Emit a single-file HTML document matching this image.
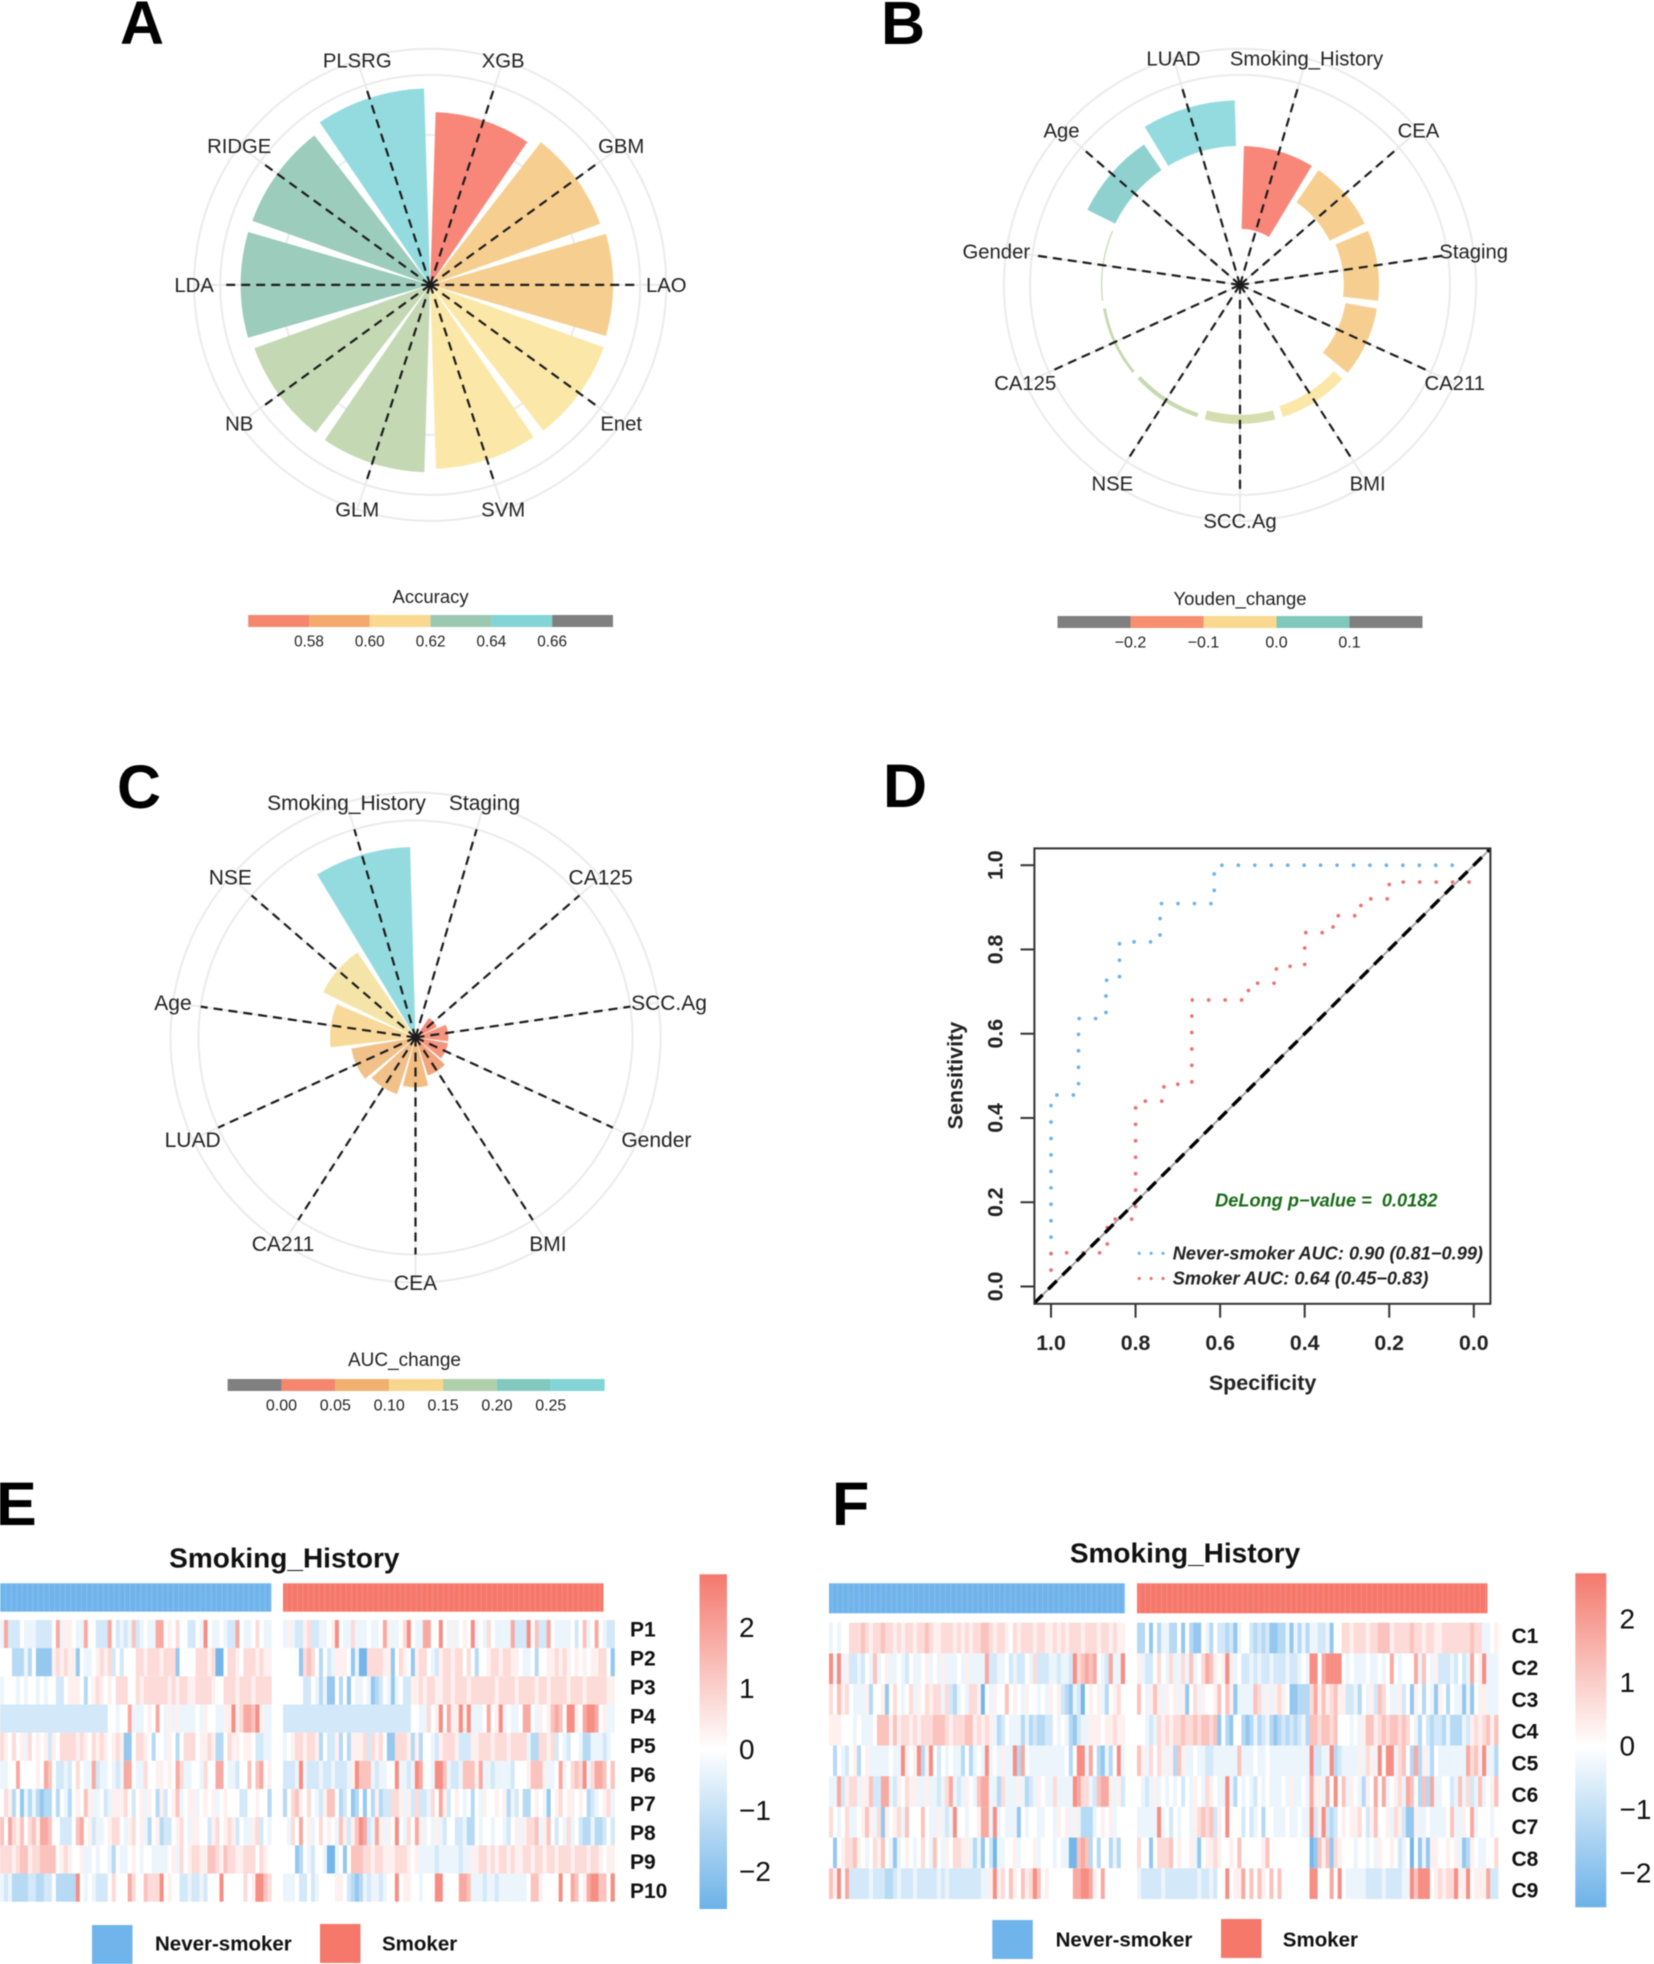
<!DOCTYPE html>
<html lang="en">
<head>
<meta charset="utf-8">
<title>Smoking history model panels</title>
<style>
html,body{margin:0;padding:0;background:#fff;width:1654px;height:1964px;overflow:hidden}
svg{display:block;font-family:"Liberation Sans",Arial,sans-serif;filter:blur(.4px)}
</style>
</head>
<body>
<svg id="fig" xmlns="http://www.w3.org/2000/svg" width="1654" height="1964" viewBox="0 0 1654 1964">
<defs>
<pattern id="annStripes" width="5.4" height="10" patternUnits="userSpaceOnUse"><rect x="0" y="0" width="1" height="10" fill="#fff" opacity=".13"/></pattern>
<linearGradient id="heatGradE" x1="0" y1="0" x2="0" y2="1"><stop offset="0" stop-color="#F4796D"/><stop offset=".523" stop-color="#fff"/><stop offset="1" stop-color="#6CB2E8"/></linearGradient>
<linearGradient id="heatGradF" x1="0" y1="0" x2="0" y2="1"><stop offset="0" stop-color="#F4796D"/><stop offset=".517" stop-color="#fff"/><stop offset="1" stop-color="#6CB2E8"/></linearGradient>
<clipPath id="rocClip"><rect x="1034.4" y="848.4" width="456" height="455.4"/></clipPath>
</defs>
<g font-weight="700" font-size="61" fill="#000">
<text x="120" y="44">A</text>
<text x="881" y="44">B</text>
<text x="117" y="808">C</text>
<text x="883" y="807">D</text>
<text x="-4" y="1525">E</text>
<text x="832" y="1525">F</text>
</g>
<g id="panelA"></g>
<g id="panelB"></g>
<g id="panelC"></g>
<g id="panelD"></g>
<g id="panelE"></g>
<g id="panelF"></g>
</svg>
<script>
// ---------- Panel A data ----------
const aLabels = ["XGB","GBM","LAO","Enet","SVM","GLM","NB","LDA","RIDGE","PLSRG"];
const aValues = [0.576,0.602,0.61,0.615,0.613,0.625,0.623,0.632,0.63,0.655];
const aRings = [0.5,0.7,0.787];
const aLegendTicks = ["0.58","0.60","0.62","0.64","0.66"];
const aLegendEdges = [0.56,0.58,0.60,0.62,0.64,0.66,0.68];
// ---------- Panel B data ----------
const bLabels = ["Smoking_History","CEA","Staging","CA211","BMI","SCC.Ag","NSE","CA125","Gender","Age","LUAD"];
const bValues = [-0.2,-0.094,-0.085,-0.077,-0.028,-0.022,-0.01,-0.007,-0.003,0.075,0.11];
const bRings = [0.171,0.234];
const bLegendTicks = ["−0.2","−0.1","0.0","0.1"];
const bLegendEdges = [-0.3,-0.2,-0.1,0,0.1,0.2];
// ---------- Panel C data ----------
const cLabels = ["Staging","CA125","SCC.Ag","Gender","BMI","CEA","CA211","LUAD","Age","NSE","Smoking_History"];
const cValues = [0.004,0.034,0.047,0.047,0.057,0.071,0.085,0.093,0.122,0.147,0.272];
const cRings = [0.31,0.35];
const cLegendTicks = ["0.00","0.05","0.10","0.15","0.20","0.25"];
const cLegendEdges = [-0.05,0,0.05,0.1,0.15,0.2,0.25,0.3];
// ---------- Panel D data ----------
const neverSpec = [1,1,0.935,0.935,0.87,0.87,0.838,0.838,0.742,0.742,0.614,0.614,0.04];
const neverSens = [0,0.4545,0.4545,0.636,0.636,0.727,0.727,0.818,0.818,0.909,0.909,1,1];
const smokerSpec = [1,1,0.867,0.867,0.8,0.8,0.733,0.733,0.667,0.667,0.533,0.533,0.467,0.467,0.4,0.4,0.333,0.333,0.267,0.267,0.2,0.2,0];
const smokerSens = [0,0.08,0.08,0.16,0.16,0.44,0.44,0.48,0.48,0.68,0.68,0.72,0.72,0.76,0.76,0.84,0.84,0.88,0.88,0.92,0.92,0.96,0.96];
const rocTicks = [0,0.2,0.4,0.6,0.8,1];
// ---------- Panel E data (half z-score units) ----------
const eRowLabels = ["P1","P2","P3","P4","P5","P6","P7","P8","P9","P10"];
const p1Left = [-1,4,-2,-2,-2,0,-1,-1,-1,-2,-2,-2,-2,0,4,-1,1,1,0,-1,-1,4,0,0,-2,-2,-2,4,0,-2,-1,-2,-1,3,-2,-1,0,-1,-1,4,4,0,1,0,2,0,0,-2,-2,0,-1,5,0,-1,-1,0,-1,-2,-2,4,0,-1,-1,0,2,0,-1,-1];
const p2Left = [0,0,0,-3,-3,-3,-1,-3,0,-4,-4,-4,-4,1,2,1,2,1,1,-4,0,-1,-1,0,1,2,1,2,-2,0,-2,0,0,0,2,2,1,2,2,2,1,2,2,2,-4,0,0,0,0,2,2,2,1,2,-5,-5,0,2,2,1,0,2,2,2,1,2,1,1];
const p3Left = [-1,0,0,0,-1,0,-1,0,0,-1,0,-1,0,0,-2,-2,0,1,1,1,0,-3,0,1,2,1,0,1,0,2,2,2,0,0,2,1,2,2,2,2,2,2,1,2,1,2,2,1,1,2,2,2,2,1,0,0,2,2,2,1,2,2,2,1,2,2,2,2];
const p4Left = [-2,-2,-2,-2,-2,-2,-2,-2,-2,-2,-2,-2,-2,-2,-2,-2,-2,-2,-2,-2,-2,-2,-2,-2,-2,-2,-2,0,0,-1,0,0,4,-1,-1,-1,0,1,0,4,0,-1,1,-1,1,-1,-1,-1,-1,0,-1,1,0,0,-1,-1,1,1,5,1,2,4,4,3,5,1,-1,-1];
const p5Left = [2,1,0,2,0,1,-1,2,0,1,0,1,-2,1,0,2,2,2,2,1,2,1,0,2,1,2,1,0,1,2,1,-4,-4,0,2,2,1,0,-3,0,0,-1,1,0,-3,0,2,2,2,0,1,1,2,1,-3,-3,0,2,1,1,0,1,1,0,-2,-2,-1,-1];
const p6Left = [-1,-1,0,0,4,0,0,0,0,1,0,4,3,0,-2,-2,-1,-2,0,2,0,-1,-1,4,-2,-1,-1,0,-1,-2,-1,4,4,0,-1,-1,2,0,0,1,1,0,1,0,4,2,-1,-1,0,0,-1,2,0,0,4,4,0,-1,-1,-2,0,0,3,0,3,4,0,1];
const p7Left = [0,2,1,-3,0,-4,-1,-3,-1,-3,-4,-3,-3,0,-3,0,-1,-3,0,1,0,3,1,-1,-1,0,-2,-1,1,1,1,2,0,-2,0,1,-1,1,0,-3,1,-2,0,1,3,-1,0,1,1,-1,0,1,0,1,-1,0,1,0,0,0,-2,-2,0,0,1,0,0,-3];
const p8Left = [3,0,4,2,1,3,0,2,3,1,4,4,3,0,0,-2,-2,-2,0,3,4,0,1,-2,-1,-1,0,1,2,2,0,-1,1,2,0,1,-1,-3,0,1,-3,-2,-2,0,1,2,0,-1,1,1,0,0,-2,1,2,0,1,2,1,-2,0,-1,-1,1,2,-2,0,-1];
const p9Left = [2,2,2,1,2,3,3,1,2,2,3,3,3,3,0,1,2,1,0,0,1,-1,-1,0,-1,0,0,-1,-3,0,-1,-1,0,1,0,-1,0,0,-1,-1,-1,-1,0,1,-1,2,0,1,2,2,1,1,3,3,2,1,3,2,2,1,1,2,2,2,0,2,1,0];
const p10Left = [-1,-2,-1,-3,-3,-3,-3,-2,-2,-3,-3,-2,-2,0,-3,-3,-3,-3,-3,5,0,-1,0,-1,-2,-2,-2,0,2,0,0,0,4,2,0,0,3,2,2,2,5,0,1,0,0,-2,-2,-1,-2,-2,-1,-2,0,0,0,5,0,0,0,0,0,2,0,1,5,5,3,2];
const p1Right = [-1,1,-1,-2,-2,1,2,-2,-2,-1,-1,0,1,5,0,-1,-1,2,-1,-1,-1,0,-1,-1,0,4,1,-1,-1,0,2,5,0,-1,-1,4,4,0,0,5,0,-1,1,-1,0,1,0,5,-1,0,-1,2,0,-1,-1,-1,-1,4,-2,-2,-2,5,0,3,-2,-2,4,0,-1,-1,-1,-1,0,-2,0,3,-1,0,4,0,-1,-2,-2];
const p2Right = [0,0,0,0,-4,2,3,2,0,-3,0,-2,-1,1,1,1,0,-4,-1,-5,-5,2,2,2,2,1,1,-4,0,2,1,0,-4,1,2,2,0,-1,-2,1,2,2,1,2,2,0,2,0,-3,0,0,1,2,2,1,2,2,1,1,0,-1,-1,0,-3,0,0,1,1,2,1,2,1,0,1,0,1,0,1,1,2,2,0,-4];
const p3Right = [0,0,0,0,0,-2,-2,0,-1,-3,-1,-4,-4,0,-3,0,-4,0,-1,-1,0,-1,-4,-3,-2,0,-1,-4,-1,0,-2,-2,1,1,2,1,2,2,1,1,2,2,1,2,2,2,1,2,2,2,2,2,2,1,2,2,2,2,1,2,2,2,2,1,2,2,1,2,2,2,2,1,2,2,2,1,2,2,2,2,2,1,1];
const p4Right = [-2,-2,-2,-2,-2,-2,-2,-2,-2,-2,-2,-2,-2,-2,-2,-2,-2,-2,-2,-2,-2,-2,-2,-2,-2,-2,-2,-2,-2,-2,-2,-2,0,0,-1,-1,2,0,1,5,0,4,1,1,5,1,5,-1,-1,-1,0,4,0,1,5,-1,0,-1,-1,0,4,4,0,-1,1,0,1,3,4,3,0,5,5,1,0,4,5,5,4,0,1,-1,-1];
const p5Right = [-1,0,1,2,2,1,2,2,1,-3,0,-2,-2,1,-3,0,-3,1,1,1,2,-2,2,1,2,0,-4,-4,2,2,2,1,-3,1,-3,0,0,-1,-2,1,2,2,2,1,-2,-2,-2,1,1,2,2,2,1,2,2,2,1,2,2,2,2,-1,-3,-3,2,2,1,2,-2,0,-1,-2,0,0,-1,-3,-3,-1,-1,-1,-2,-1,0];
const p6Right = [-2,-2,-2,-1,5,-1,-2,-2,-2,-1,-2,-2,-1,-2,-2,-2,-1,1,5,3,3,3,-1,-2,-1,-1,0,0,5,-1,-1,-2,-1,5,4,0,0,-1,5,5,3,-1,-2,-2,-1,3,3,3,1,4,-1,-1,-2,-1,-1,-1,-1,-2,0,0,0,1,3,3,3,1,-1,-1,0,4,-1,0,2,3,2,5,-1,2,4,4,3,0,3];
const p7Right = [-3,0,2,3,1,0,2,0,-1,-2,1,3,3,0,-3,-2,0,-4,-3,0,-4,0,-3,1,-3,-2,-2,2,2,1,-1,1,-2,2,-2,-2,-1,2,0,4,1,-2,0,1,0,-1,0,-3,0,-1,1,0,0,1,0,1,-3,-1,-2,0,-3,-3,0,1,0,-1,-4,0,1,2,0,1,1,0,1,0,-3,-2,-1,0,1,2,-1];
const p8Right = [0,-1,2,0,4,0,1,-1,0,2,0,1,0,-1,3,1,-2,1,3,5,4,-2,-1,4,1,-1,1,0,5,0,-1,2,0,4,1,-1,0,-1,1,-1,-2,0,0,-2,-2,-1,-3,-3,0,-1,0,0,-1,0,0,-1,-2,0,1,-1,1,2,2,3,-1,1,3,0,-2,0,-1,2,-1,0,-2,-3,-3,-1,-3,-3,-2,0,-2];
const p9Right = [0,0,0,-4,-3,0,-1,-2,0,0,-1,-5,-5,-1,0,-4,0,3,3,3,2,2,1,2,2,1,1,1,2,2,2,1,0,1,-1,-1,-1,-1,-2,-1,-1,-1,-1,-1,-2,-1,-1,1,1,2,2,1,2,1,2,2,1,2,1,1,2,2,1,2,2,1,2,2,1,2,2,2,1,2,2,2,1,2,2,1,0,1,1];
const p10Right = [-1,-1,-1,0,-2,-2,0,-2,-1,0,0,0,0,1,1,0,-2,-3,-4,-3,-1,-2,-1,-1,-2,-1,0,0,5,0,1,1,0,0,-1,0,0,0,5,5,0,0,0,0,4,4,3,-1,-1,-1,-2,-1,-1,-2,-1,-1,-1,-1,-1,-1,-1,0,3,3,1,0,0,0,0,5,0,0,4,3,0,1,4,5,5,3,3,0,5];
const eLeftRows = [p1Left,p2Left,p3Left,p4Left,p5Left,p6Left,p7Left,p8Left,p9Left,p10Left];
const eRightRows = [p1Right,p2Right,p3Right,p4Right,p5Right,p6Right,p7Right,p8Right,p9Right,p10Right];
// ---------- Panel F data (half z-score units) ----------
const fRowLabels = ["C1","C2","C3","C4","C5","C6","C7","C8","C9"];
const c1Left = [-1,0,-1,0,0,2,2,2,3,2,1,2,2,3,2,2,1,2,1,2,2,1,2,2,3,2,1,1,2,2,2,1,2,1,2,1,2,2,3,3,2,1,2,2,1,0,2,1,2,2,2,1,2,2,1,1,2,1,2,1,2,2,2,1,2,2,2,1,2,2,1,2,1,1];
const c2Left = [5,-1,5,-1,1,-2,-2,-1,-2,0,-1,3,-1,0,1,-1,-1,0,-1,-2,0,-1,-1,0,1,-1,0,-1,1,-1,-1,-1,0,-1,1,-1,-1,-1,-1,4,-2,-2,-1,-1,0,-2,-1,-2,-2,0,-1,2,-2,-2,-2,-1,-1,-2,-1,-1,-2,5,2,3,4,3,4,0,-1,-2,4,-1,-1,5];
const c3Left = [2,0,3,1,2,0,-1,-1,-1,1,-3,0,0,1,-4,0,2,0,-1,0,2,-1,1,0,2,1,2,2,-1,2,-2,-3,-1,0,-1,2,2,1,-5,0,-1,1,0,0,3,0,1,0,-1,1,0,0,-1,0,-1,1,0,1,-2,-3,-4,-1,-2,-5,0,1,0,1,-1,-3,0,1,2,0];
const c4Left = [1,1,1,0,0,0,-1,0,-1,-1,-1,0,3,3,3,1,3,1,2,2,1,2,1,2,2,2,3,3,3,2,1,2,2,2,3,3,1,2,1,2,1,-1,-3,-2,0,-1,-1,-1,-3,-1,-3,-2,-3,-3,-2,-2,0,-1,0,-1,-3,-4,-2,-1,-1,1,1,1,0,1,1,2,1,1];
const c5Left = [0,-3,0,-1,-2,0,1,-3,0,1,-1,-1,-1,-1,-1,0,-1,-1,5,1,0,1,5,-3,1,5,0,-2,0,-1,0,-1,-1,-3,0,-3,-1,0,-1,5,-1,0,-1,1,-1,-1,5,-3,4,0,-1,-1,-1,-1,-1,-1,-1,-1,-1,0,-3,0,5,5,-1,4,0,-3,-4,-1,-3,0,5,-1];
const c6Left = [-1,-1,4,-2,1,2,2,-1,1,1,3,-2,-2,4,4,-1,-2,1,0,2,1,1,-1,-1,1,-1,-1,-2,-1,2,4,-1,-2,-1,1,0,-1,3,4,4,-1,-1,-3,2,-1,-1,-1,1,-1,-3,-2,-1,1,0,-1,-1,2,-1,-1,-1,-1,5,4,2,2,-1,-2,3,4,4,1,-1,1,-2];
const c7Left = [2,0,-1,0,2,-1,-1,0,1,3,1,-1,2,-4,1,0,1,2,-1,3,0,0,0,3,0,-1,-1,1,-1,-2,-1,5,0,0,-1,0,0,1,4,4,-1,5,-1,0,-1,-1,-1,-4,0,-1,0,0,-1,-1,0,0,-1,1,0,1,-1,1,-1,-3,-3,-3,-1,0,1,0,1,-1,0,0];
const c8Left = [0,-4,0,1,2,2,3,1,0,-1,0,2,1,3,0,-1,-4,-1,0,1,0,-1,0,2,0,-1,3,0,-1,1,0,2,2,1,1,-1,-3,-1,-4,0,-2,-5,-1,-1,0,0,1,-1,0,0,0,1,-1,0,0,0,-1,0,-1,-1,-5,-5,3,4,3,-3,0,-3,0,0,-3,-1,-3,0];
const c9Left = [3,1,5,0,4,-2,-2,-2,-2,-2,-1,-2,-2,-2,-3,-3,-2,-1,-2,-2,-2,-1,-2,-2,-2,-2,-2,-1,-2,-1,-2,-2,-2,-2,-2,-2,-2,-2,-1,-1,1,5,1,2,0,3,1,0,3,1,2,5,3,0,1,0,0,0,0,0,0,4,4,5,5,4,1,0,4,0,0,0,0,0];
const c1Right = [-3,-3,0,-4,0,-3,-1,-1,-3,-3,0,-4,0,-3,-4,-4,0,-1,-3,0,-2,-2,-3,-2,-4,-1,0,0,-2,-3,-2,-3,-2,-4,-4,-3,-3,-1,-4,-1,-3,-1,-3,-1,-1,-2,-2,-1,-4,0,0,2,2,1,2,2,2,1,2,2,3,3,3,1,2,2,2,2,3,2,2,1,2,2,1,1,2,2,2,2,2,2,2,3,2,2,-1,-1,0,1];
const c2Right = [1,-1,-2,-2,0,2,0,-1,2,-1,-1,2,-1,3,-1,0,2,4,3,1,0,1,5,1,-1,0,-2,-2,-1,-2,-1,-2,-2,-1,-2,-2,-2,-1,-2,-2,-1,0,-1,5,5,0,4,5,5,5,5,0,-1,0,-1,-1,-1,0,-1,-1,0,-1,0,4,0,-1,0,0,0,4,-1,3,0,-1,1,-2,-2,-2,-1,-2,0,-2,-1,4,0,1,5,-1,-1,-1];
const c3Right = [3,0,-1,1,3,1,-1,1,0,1,-1,1,-4,0,2,-1,1,0,0,1,3,0,3,1,-4,-1,-1,-1,-1,3,2,-1,1,-1,1,2,1,0,-4,-4,-3,-3,-3,2,4,1,3,1,2,3,1,1,-2,-2,-1,-3,0,-1,1,-2,3,2,0,-1,-1,1,-2,0,-4,1,0,-3,0,-1,-4,1,0,-3,0,-1,-1,-4,-1,-4,0,1,1,-1,-1,-1];
const c4Right = [0,0,-1,-2,-1,2,1,2,1,2,2,3,2,2,3,2,3,3,2,3,-4,0,-3,-4,0,0,-3,-4,-3,-1,-3,-2,-1,-3,-4,-3,-2,-3,-2,-3,-2,-1,-3,3,3,2,3,3,2,3,0,0,0,-1,0,-1,1,3,3,1,2,3,2,3,3,2,3,2,0,-1,-3,0,-2,-3,-2,-2,-3,-1,-3,-3,-3,-1,-2,1,2,1,2,3,1,3];
const c5Right = [3,1,-1,2,0,2,1,-1,1,-3,3,1,-1,-1,0,-1,-1,-2,-2,-1,-1,-1,-1,-1,-1,3,-1,-1,-1,0,-1,-1,0,-1,-1,-1,-1,-1,-1,-1,-1,-1,-1,5,-2,-2,-1,-1,5,-3,-2,-1,-1,-1,-1,1,-1,2,1,-1,5,0,5,5,-1,2,3,0,-3,4,-3,1,-1,-3,0,-1,-1,-1,-1,-1,-1,-1,4,2,3,1,5,-1,-1,-3];
const c6Right = [0,-1,-2,-1,1,-1,0,-1,0,-1,0,-2,0,-1,1,0,-1,2,1,0,-1,-1,5,-1,-3,0,-1,0,-1,-2,0,-1,0,-1,-1,-1,0,-1,1,-1,-1,0,-1,4,1,1,-1,4,0,5,0,3,-1,1,0,-1,-3,1,0,4,0,4,-1,0,1,2,-1,4,3,0,-3,3,-3,4,-1,-1,0,0,-2,-1,3,-1,2,-2,-1,3,-1,0,1,3];
const c7Right = [-1,-1,-1,-1,-1,5,-1,0,-2,0,-1,0,0,-1,1,2,3,2,3,-2,1,0,5,0,0,0,-2,0,-2,-1,0,-3,0,0,-1,-1,-1,0,-1,-1,0,-1,-1,5,-2,1,5,-2,-3,-2,0,1,0,1,1,2,0,-2,1,3,0,0,1,-1,2,1,-2,-4,-4,1,-1,-1,0,-1,-1,-1,-1,0,3,-1,-1,1,0,4,-1,0,0,0,-1,0];
const c8Right = [2,0,0,-4,0,2,2,2,3,0,1,0,0,1,-1,-4,0,1,1,2,1,0,0,1,0,3,0,0,0,0,0,1,3,0,0,0,0,0,0,0,0,0,0,-5,-4,3,1,3,-4,2,1,0,0,0,-1,0,0,-1,0,-1,1,0,0,1,0,-2,-1,0,-5,0,-4,-1,-4,1,1,0,0,1,0,1,-1,-4,-3,1,0,-1,-1,0,0,2];
const c9Right = [-1,-2,-2,-2,-2,-2,-1,-2,-2,-2,-2,-2,-2,-2,-2,-1,-2,-2,-1,-2,0,0,5,0,1,1,4,0,3,0,3,1,0,3,0,3,0,0,0,0,0,0,0,5,5,0,0,0,4,0,5,0,-1,-1,-1,-1,-1,-2,-2,-2,-2,-1,-2,-2,-2,-2,-1,-1,5,3,5,5,5,0,1,2,1,2,2,5,1,1,5,0,1,1,1,4,-2,-2];
const fLeftRows = [c1Left,c2Left,c3Left,c4Left,c5Left,c6Left,c7Left,c8Left,c9Left];
const fRightRows = [c1Right,c2Right,c3Right,c4Right,c5Right,c6Right,c7Right,c8Right,c9Right];
const heatTicks = [2,1,0,-1,-2];

// ---------- helpers ----------
const NS = "http://www.w3.org/2000/svg";
function add(parent, tag, props, txt){
  const n = document.createElementNS(NS, tag);
  for (const k in props) n.setAttribute(k, props[k]);
  if (txt !== undefined) n.textContent = txt;
  parent.appendChild(n);
  return n;
}
function pt(cx, cy, r, deg){
  const a = deg * Math.PI / 180;
  return [cx + r * Math.sin(a), cy - r * Math.cos(a)];
}
function wedge(cx, cy, r0, r1, a0, a1){
  const p1 = pt(cx,cy,r1,a0), p2 = pt(cx,cy,r1,a1), p3 = pt(cx,cy,r0,a1), p4 = pt(cx,cy,r0,a0);
  return "M"+p1+"A"+r1+" "+r1+" 0 0 1 "+p2+"L"+p3+"A"+r0+" "+r0+" 0 0 0 "+p4+"Z";
}
function binColor(v, breaks, palette){
  let i = 0;
  while (i < breaks.length && v >= breaks[i]) i++;
  return palette[i];
}
function polarChart(g, o){
  const step = 360 / o.labels.length;
  o.rings.forEach(function(v){
    const ring = add(g, "circle", {cx:o.cx, cy:o.cy, r:o.r(v), fill:"none", stroke:"#EBEBEB", "stroke-width":2});
    
    
  });
  const rOuter = o.r(o.rings[o.rings.length-1]);
  const rSpoke = o.r(o.rings[o.rings.length-2]);
  o.labels.forEach(function(lab, i){
    const p = pt(o.cx,o.cy,rOuter,(i+.5)*step);
    const grid = add(g, "line", {x1:o.cx, y1:o.cy, x2:p[0], y2:p[1], stroke:"#EBEBEB", "stroke-width":2});
    
    
  });
  o.labels.forEach(function(lab, i){
    const c = (i+.5)*step, hw = step*.45;
    const ra = o.r(0), rb = o.r(o.values[i]);
    const bar = add(g, "path", {d:wedge(o.cx,o.cy,Math.min(ra,rb),Math.max(ra,rb),c-hw,c+hw), fill:binColor(o.values[i],o.breaks,o.palette)});
    
    
  });
  o.labels.forEach(function(lab, i){
    const c = (i+.5)*step;
    const e = pt(o.cx,o.cy,rSpoke,c);
    const sp = add(g, "line", {x1:o.cx, y1:o.cy, x2:e[0], y2:e[1], stroke:"#1c1c1c", "stroke-width":2.2, "stroke-dasharray":"9 6"});
    
    
    const lp = pt(o.cx,o.cy,rOuter,c);
    const t = add(g, "text", {x:lp[0] + (o.nudge[lab]||0), y:lp[1]+1, "font-size":o.font, fill:"#222", "text-anchor":"middle", "dominant-baseline":"central"}, lab);
    
    
  });
}
function legendBar(g, o){
  const x = function(v){ return o.x0 + (v - o.edges[0]) * o.k; };
  const title = add(g, "text", {x:o.titleX, y:o.titleY, "font-size":o.titleFont, fill:"#222", "text-anchor":"middle", "dominant-baseline":"central"}, o.title);
  
  
  for (let i = 0; i < o.edges.length-1; i++){
    const seg = add(g, "rect", {x:x(o.edges[i]), y:o.y, width:x(o.edges[i+1])-x(o.edges[i]), height:12, fill:o.colors[i]});
    
    
  }
  o.ticks.forEach(function(lab, i){
    const t = add(g, "text", {x:x(o.edges[i+1]), y:o.y+27, "font-size":o.tickFont, fill:"#222", "text-anchor":"middle", "dominant-baseline":"central"}, lab);
    
    
  });
}

// ---------- Panels A, B, C ----------
polarChart(document.getElementById("panelA"), {cx:430.2, cy:284.9, font:20.3, labels:aLabels, values:aValues, rings:aRings, nudge:{},
  r:function(v){return 300*v;},
  breaks:[.59,.612,.62,.628,.64],
  palette:["#F8877A","#F6CF90","#FBE8A8","#C4D8B4","#9CCCBB","#94DBE0"]});
legendBar(document.getElementById("panelA"), {title:"Accuracy", titleFont:18.5, tickFont:15.3, titleX:430.6, titleY:596.5, x0:248.2, k:3040, y:615, edges:aLegendEdges, ticks:aLegendTicks,
  colors:["#F5876F","#F4A96F","#FAD88F","#9CC7B3","#83D4D6","#808080"]});

polarChart(document.getElementById("panelB"), {cx:1240, cy:284.9, font:20.3, labels:bLabels, values:bValues, rings:bRings, nudge:{Gender:-10},
  r:function(v){return 139+415*v;},
  breaks:[-.15,-.05,-.025,-.015,0,.09],
  palette:["#F8877A","#F6CF90","#FBE8A8","#D6DDAE","#C8D9B2","#8FD1CF","#94DBE0"]});
legendBar(document.getElementById("panelB"), {title:"Youden_change", titleFont:18.5, tickFont:16, titleX:1240, titleY:598.5, x0:1057.5, k:730, y:616, edges:bLegendEdges, ticks:bLegendTicks,
  colors:["#808080","#F79070","#FAD88F","#80C8BC","#808080"]});

polarChart(document.getElementById("panelC"), {cx:415.5, cy:1037.5, font:21, labels:cLabels, values:cValues, rings:cRings, nudge:{"SCC.Ag":11, Gender:18},
  r:function(v){return 700*v;},
  breaks:[.04,.05,.06,.08,.1,.13,.2],
  palette:["#F58B7A","#F5957D","#F2A47C","#F3BC80","#F2C189","#F8D99A","#F5E4A8","#94DBE0"]});
legendBar(document.getElementById("panelC"), {title:"AUC_change", titleFont:19, tickFont:16, titleX:404.5, titleY:1360.6, x0:227.6, k:1077.2, y:1379, edges:cLegendEdges, ticks:cLegendTicks,
  colors:["#808080","#F5876F","#F2B06F","#F8D68E","#B0D0AC","#82CAC0","#83D4D6"]});

// ---------- Panel D ----------
(function(){
  const g = document.getElementById("panelD");
  const sx = function(s){ return 1051 + (1-s)*422.8; };
  const sy = function(v){ return 1286.5 - v*421.3; };
  function curve(xs, ys, color, name){
    let d = "";
    xs.forEach(function(x,i){ d += (i?"L":"M") + sx(x) + " " + sy(ys[i]); });
    const p = add(g, "path", {d:d, fill:"none", stroke:color, "stroke-width":3.7, "stroke-linecap":"round", "stroke-dasharray":"0 16.45"});
    
    
  }
  curve(neverSpec, neverSens, "#6DB3E8", "never-smoker-roc-curve");
  curve(smokerSpec, smokerSens, "#F07070", "smoker-roc-curve");
  const diagBase = add(g, "line", {x1:sx(1.04), y1:sy(-.04), x2:sx(-.04), y2:sy(1.04), stroke:"#a8a8a8", "stroke-width":2, "clip-path":"url(#rocClip)"});
  
  
  const diagDash = add(g, "line", {x1:sx(1.04), y1:sy(-.04), x2:sx(-.04), y2:sy(1.04), stroke:"#000", "stroke-width":3.4, "stroke-dasharray":"12 8", "clip-path":"url(#rocClip)"});
  
  
  const box = add(g, "rect", {x:1034.4, y:848.4, width:456, height:455.4, fill:"none", stroke:"#333", "stroke-width":2});
  
  
  rocTicks.forEach(function(v){
    const tx = add(g, "line", {x1:sx(v), y1:1303.8, x2:sx(v), y2:1317.7, stroke:"#333", "stroke-width":2});
    
    
    const ty = add(g, "line", {x1:1034.4, y1:sy(v), x2:1020.5, y2:sy(v), stroke:"#333", "stroke-width":2});
    
    
    const lx = add(g, "text", {x:sx(v), y:1343, "font-size":21.3, "font-weight":700, fill:"#222", "text-anchor":"middle", "dominant-baseline":"central"}, v.toFixed(1));
    
    
    const ly = add(g, "text", {transform:"translate(995.7 "+sy(v)+") rotate(-90)", "font-size":21.3, "font-weight":700, fill:"#222", "text-anchor":"middle", "dominant-baseline":"central"}, v.toFixed(1));
    
    
  });
  const xt = add(g, "text", {x:1262.6, y:1382.9, "font-size":21.5, "font-weight":700, fill:"#222", "text-anchor":"middle", "dominant-baseline":"central"}, "Specificity");
  
  
  const yt = add(g, "text", {transform:"translate(955.4 1075.6) rotate(-90)", "font-size":21.5, "font-weight":700, fill:"#222", "text-anchor":"middle", "dominant-baseline":"central"}, "Sensitivity");
  
  
  const dl = add(g, "text", {x:1326.3, y:1200.7, "font-size":18.2, "font-weight":700, "font-style":"italic", fill:"#1a6b1a", "text-anchor":"middle", "dominant-baseline":"central", style:"white-space:pre"}, "DeLong p−value =  0.0182");
  
  
  [["Never-smoker AUC: 0.90 (0.81−0.99)","#6DB3E8",1253.3,"legend-entry-never-smoker"],["Smoker AUC: 0.64 (0.45−0.83)","#F07070",1278.5,"legend-entry-smoker"]].forEach(function(e){
    const s = add(g, "line", {x1:1139.2, y1:e[2], x2:1164, y2:e[2], stroke:e[1], "stroke-width":3.2, "stroke-linecap":"round", "stroke-dasharray":"0 11.9"});
    
    
    const t = add(g, "text", {x:1172.8, y:e[2], "font-size":18.2, "font-weight":700, "font-style":"italic", fill:"#222", "dominant-baseline":"central"}, e[0]);
    
    
  });
})();

// ---------- Panels E, F ----------
const zPerUnit = 0.5;
function heatColor(u){
  const z = u * zPerUnit;
  const f0 = z >= 0 ? Math.min(1, z/2.87) : Math.min(1, -z/2.62);
  const f = Math.pow(f0, 1.25);
  const c = z >= 0 ? [244,121,109] : [108,178,232];
  return "rgb(" + c.map(function(ch){ return Math.round(255 + (ch-255)*f); }).join(",") + ")";
}
function heatmap(g, o){
  const title = add(g, "text", {x:o.titleX, y:o.titleY, "font-size":28, "font-weight":700, fill:"#111", "text-anchor":"middle", "dominant-baseline":"central"}, "Smoking_History");
  
  
  [[o.annL,"#70B4EC","annotation-never-smoker"],[o.annR,"#F6786B","annotation-smoker"]].forEach(function(a){
    const r = add(g, "rect", {x:a[0][0], y:o.annY, width:a[0][1]-a[0][0], height:o.annH, fill:a[1]});
    
    
    const st = add(g, "rect", {x:a[0][0], y:o.annY, width:a[0][1]-a[0][0], height:o.annH, fill:"url(#annStripes)"});
    
    
  });
  o.rowLabels.forEach(function(lab, r){
    const y = o.top + r*o.rowH;
    [[o.left[r],o.grpL],[o.right[r],o.grpR]].forEach(function(part){
      const vals = part[0], x0 = part[1][0], w = (part[1][1]-part[1][0])/vals.length;
      vals.forEach(function(v, i){
        const cell = add(g, "rect", {x:(x0+i*w).toFixed(2), y:y.toFixed(2), width:(w+.25).toFixed(2), height:o.rowH.toFixed(2), fill:heatColor(v)});
        
        
      });
    });
    const t = add(g, "text", {x:o.labelX, y:o.labelTop + r*o.labelStep, "font-size":21, "font-weight":700, fill:"#111", "dominant-baseline":"central"}, lab);
    
    
  });
  const cb = add(g, "rect", {x:o.cbX, y:o.cbY, width:o.cbW, height:o.cbH, fill:"url(#"+o.grad+")"});
  
  
  heatTicks.forEach(function(v){
    const t = add(g, "text", {x:o.cbLabelX, y:o.cbZero - v*o.cbK, "font-size":28, fill:"#111", "dominant-baseline":"central"}, v < 0 ? "−"+(-v) : String(v));
    
    
  });
  [[o.legN,"#70B4EC","Never-smoker","legend-never-smoker"],[o.legS,"#F6786B","Smoker","legend-smoker"]].forEach(function(e){
    const s = add(g, "rect", {x:e[0][0], y:e[0][1], width:40.5, height:39, fill:e[1]});
    
    
    const t = add(g, "text", {x:e[0][2], y:o.legY, "font-size":20.5, "font-weight":700, fill:"#111", "dominant-baseline":"central"}, e[2]);
    
    
  });
}
heatmap(document.getElementById("panelE"), {titleX:284.3, titleY:1558, annL:[0,271.4], annR:[283,603.5], annY:1583.3, annH:28.4,
  top:1620, rowH:28.17, left:eLeftRows, right:eRightRows, grpL:[0,271.4], grpR:[283,614.6], rowLabels:eRowLabels, labelX:630, labelTop:1630, labelStep:29.08,
  cbX:699.5, cbY:1574.3, cbW:27.5, cbH:334.7, grad:"heatGradE", cbLabelX:739, cbZero:1749.5, cbK:61,
  legN:[92,1925,155], legS:[320,1924,382], legY:1944});
heatmap(document.getElementById("panelF"), {titleX:1185, titleY:1553, annL:[829,1124.8], annR:[1137,1487.5], annY:1583.3, annH:30,
  top:1622.7, rowH:30.7, left:fLeftRows, right:fRightRows, grpL:[829,1124.8], grpR:[1137,1498.2], rowLabels:fRowLabels, labelX:1511.5, labelTop:1636.7, labelStep:31.8,
  cbX:1575.3, cbY:1573.3, cbW:31, cbH:334, grad:"heatGradF", cbLabelX:1619.5, cbZero:1746, cbK:63.4,
  legN:[992.3,1920,1055.6], legS:[1221,1919,1282.8], legY:1940});
</script>
</body>
</html>
